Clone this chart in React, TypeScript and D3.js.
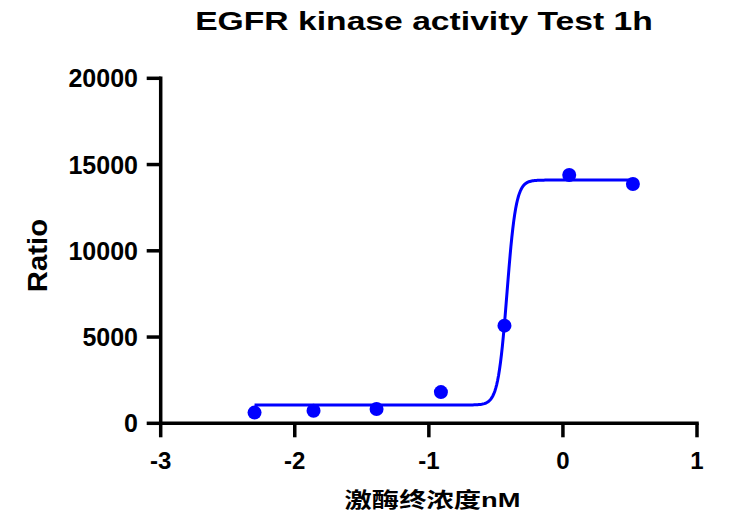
import React from "react";
import * as d3 from "d3";

const logConc: number[] = [-2.3, -1.86, -1.39, -0.91, -0.436, 0.047, 0.522];
const ratio: number[] = [620, 730, 830, 1810, 5660, 14390, 13870];

// 4PL fit parameters (as reported by the fitted curve)
const fitBottom = 1060;
const fitTop = 14100;
const fitLogEC50 = -0.417;
const fitHill = 13;

const xTicks: number[] = [-3, -2, -1, 0, 1];
const yTicks: number[] = [0, 5000, 10000, 15000, 20000];

const title = "EGFR kinase activity Test 1h";
const xLabel = "激酶终浓度nM";
const yLabel = "Ratio";

const W = 736;
const H = 526;
const BLUE = "#0000FF";
const FONT = "'Liberation Sans', Arial, 'Noto Sans CJK SC', sans-serif";

export default function App() {
  const x = d3.scaleLinear().domain([-3, 1]).range([160.7, 697]);
  const y = d3.scaleLinear().domain([0, 20000]).range([423.3, 78.3]);

  const fit = (v: number) =>
    fitBottom + (fitTop - fitBottom) / (1 + Math.pow(10, (fitLogEC50 - v) * fitHill));
  const xMin = d3.min(logConc) as number;
  const xMax = d3.max(logConc) as number;
  const samples = d3.range(0, 401).map((i) => xMin + ((xMax - xMin) * i) / 400);
  const line = d3
    .line<number>()
    .x((d) => x(d))
    .y((d) => y(fit(d)))
    .curve(d3.curveLinear);

  const axisW = 3.5;
  const tickLen = 14;

  return (
    <svg
      width={W}
      height={H}
      style={{ position: "absolute", left: 0, top: 0, background: "#fff" }}
      fontFamily={FONT}
    >
      <rect x={0} y={0} width={W} height={H} fill="#fff" />
      {/* title */}
      <text
        transform={`translate(424,30) scale(1.32,1)`}
        textAnchor="middle"
        fontSize={25.5}
        fontWeight="bold"
        fill="#000"
      >
        {title}
      </text>

      {/* y axis */}
      <line x1={x(-3)} x2={x(-3)} y1={y(20000) - axisW / 2} y2={y(0) + axisW / 2} stroke="#000" strokeWidth={axisW} />
      {yTicks.map((t) => (
        <g key={"y" + t}>
          <line x1={x(-3) - tickLen} x2={x(-3)} y1={y(t)} y2={y(t)} stroke="#000" strokeWidth={axisW} />
          <text x={138} y={y(t)} dy="0.36em" textAnchor="end" fontSize={25} fontWeight="bold" fill="#000">
            {t}
          </text>
        </g>
      ))}

      {/* x axis */}
      <line x1={x(-3) - axisW / 2} x2={x(1) + axisW / 2} y1={y(0)} y2={y(0)} stroke="#000" strokeWidth={axisW} />
      {xTicks.map((t) => (
        <g key={"x" + t}>
          <line x1={x(t)} x2={x(t)} y1={y(0)} y2={y(0) + tickLen} stroke="#000" strokeWidth={axisW} />
          <text x={x(t)} y={468.5} textAnchor="middle" fontSize={24} fontWeight="bold" fill="#000">
            {t}
          </text>
        </g>
      ))}

      {/* axis labels */}
      <text
        transform={`translate(432.5,507) scale(1.3,1)`}
        textAnchor="middle"
        fontSize={21}
        fontWeight="bold"
        fill="#000"
      >
        {xLabel}
      </text>
      <text
        transform={`translate(46.5,255.5) rotate(-90) scale(1.05,1)`}
        textAnchor="middle"
        fontSize={28}
        fontWeight="bold"
        fill="#000"
      >
        {yLabel}
      </text>

      {/* fitted curve */}
      <path d={line(samples) || ""} fill="none" stroke={BLUE} strokeWidth={3} />

      {/* data points */}
      {logConc.map((c, i) => (
        <circle key={i} cx={x(c)} cy={y(ratio[i])} r={7} fill={BLUE} />
      ))}
    </svg>
  );
}
